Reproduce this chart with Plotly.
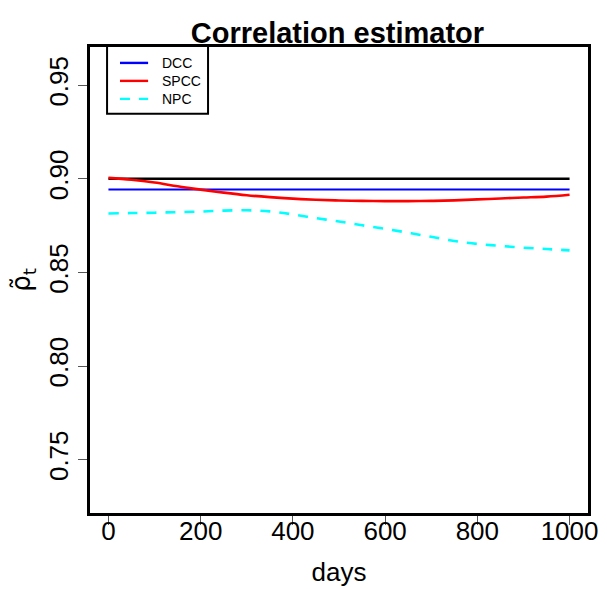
import plotly.graph_objects as go

days = [0, 50, 100, 150, 200, 250, 300, 350, 400, 450, 500,
        550, 600, 650, 700, 750, 800, 850, 900, 950, 1000]
rho_true = [0.900] * 21
dcc = [0.8943, 0.8943, 0.8943, 0.8943, 0.8943, 0.8943, 0.8943, 0.8943, 0.8943, 0.8943, 0.8943,
       0.8943, 0.8943, 0.8943, 0.8943, 0.8943, 0.8943, 0.8943, 0.8943, 0.8943, 0.8943]
spcc = [0.9005, 0.8995, 0.8980, 0.8960, 0.8942, 0.8926, 0.8912, 0.8902, 0.8894, 0.8888, 0.8884,
        0.8882, 0.8881, 0.8881, 0.8882, 0.8885, 0.8890, 0.8895, 0.8900, 0.8905, 0.8915]
npc = [0.8815, 0.8817, 0.8819, 0.8822, 0.8825, 0.8830, 0.8832, 0.8826, 0.8810, 0.8790, 0.8772,
       0.8752, 0.8733, 0.8712, 0.8690, 0.8668, 0.8652, 0.8642, 0.8632, 0.8625, 0.8618]

x_ticks = [0, 200, 400, 600, 800, 1000]
y_ticks = [0.75, 0.80, 0.85, 0.90, 0.95]
y_tick_labels = ["0.75", "0.80", "0.85", "0.90", "0.95"]
legend_names = ["DCC", "SPCC", "NPC"]
legend_colors = ["#0000FF", "#FF0000", "#00FFFF"]
legend_dash = ["solid", "solid", "10px,9px"]

FONT = "Liberation Sans, Arial, sans-serif"
XR = [-40, 1040]
YR = [0.7215, 0.9704]

fig = go.Figure()
fig.add_trace(go.Scatter(x=days, y=rho_true, mode="lines", line=dict(color="black", width=2.6), showlegend=False))
fig.add_trace(go.Scatter(x=days, y=dcc, mode="lines", line=dict(color="#0000FF", width=2.2), showlegend=False))
fig.add_trace(go.Scatter(x=days, y=spcc, mode="lines", line=dict(color="#FF0000", width=2.6, shape="spline"), showlegend=False))
fig.add_trace(go.Scatter(x=days, y=npc, mode="lines", line=dict(color="#00FFFF", width=2.6, dash="10px,9px", shape="spline"), showlegend=False))

# manual legend (R style, clipped at top of plot region)
lx0, lx1 = -3, 216
ly0 = 0.9347
fig.add_shape(type="rect", xref="x", yref="y", x0=lx0, x1=lx1, y0=ly0, y1=YR[1] + 0.01,
              line=dict(color="black", width=2), fillcolor="white", layer="above")
leg_y = [0.9619, 0.9523, 0.9427]
for name, col, dsh, yy in zip(legend_names, legend_colors, legend_dash, leg_y):
    fig.add_shape(type="line", xref="x", yref="y", x0=25, x1=86, y0=yy, y1=yy,
                  line=dict(color=col, width=2.4, dash=dsh), layer="above")
    fig.add_annotation(x=112, y=yy, xref="x", yref="y", text=name, showarrow=False,
                       xanchor="left", yanchor="middle", font=dict(family=FONT, size=14, color="black"))
# clipped first legend entry (rho) - only its bottom shows below the plot edge
fig.add_trace(go.Scatter(x=[112], y=[0.9690], mode="text", text=["ρ"], textposition="top right",
                         textfont=dict(family=FONT, size=14, color="black"), cliponaxis=True, showlegend=False,
                         hoverinfo="skip"))

fig.update_layout(
    width=607, height=589,
    margin=dict(l=90, r=19, t=47, b=76),
    paper_bgcolor="white", plot_bgcolor="white",
    font=dict(family=FONT, color="black"),
    title=dict(text="<b>Correlation estimator</b>", x=0.556, xanchor="center", y=0.945, yanchor="middle",
               font=dict(family=FONT, size=29, color="black")),
    xaxis=dict(range=XR, tickmode="array", tickvals=x_ticks, ticks="outside", ticklen=9, tickwidth=1,
               tickcolor="#555555", showline=True, mirror=True, linecolor="black", linewidth=2.5,
               showgrid=False, zeroline=False, tickfont=dict(size=26), automargin=False,
               ticklabelstandoff=-16,
               title=dict(text="days", font=dict(size=26), standoff=18)),
    yaxis=dict(range=YR, tickmode="array", tickvals=y_ticks, ticktext=y_tick_labels, ticks="outside",
               ticklen=9, tickwidth=1, tickcolor="#555555", showline=True, mirror=True, linecolor="black",
               linewidth=2.5, showgrid=False, zeroline=False, tickangle=-90, tickfont=dict(size=26),
               automargin=False,
               title=dict(text="ρ̃<sub>t</sub>", font=dict(size=26, family="DejaVu Sans"), standoff=6)),
)

fig.write_html("out.html")
